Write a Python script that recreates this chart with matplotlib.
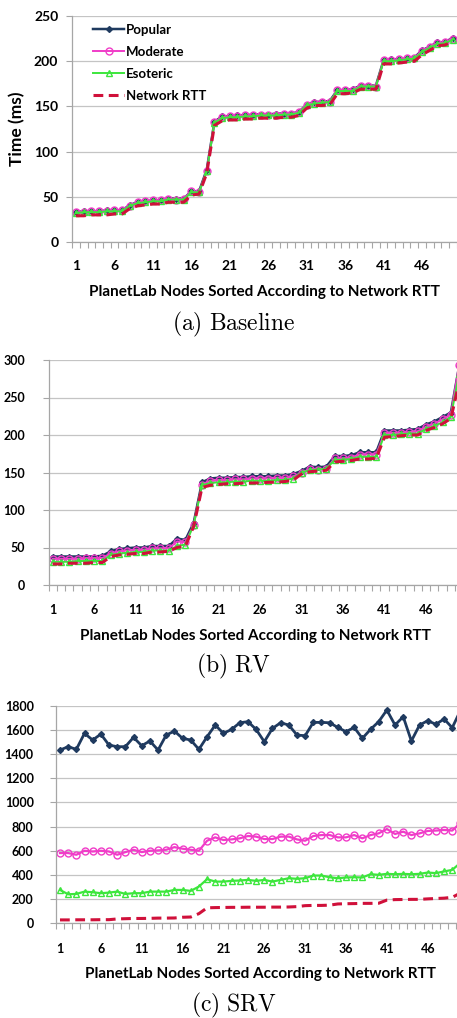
import numpy as np
import matplotlib
matplotlib.use("Agg")
import matplotlib.pyplot as plt
from matplotlib.ticker import FixedLocator, NullFormatter

plt.rcParams['font.family'] = ['Lato', 'DejaVu Sans']
plt.rcParams['font.weight'] = 'bold'
plt.rcParams['mathtext.fontset'] = 'cm'

nodes = np.arange(1, 51)
tick_nodes = [1, 6, 11, 16, 21, 26, 31, 36, 41, 46]
series_names = ["Popular", "Moderate", "Esoteric", "Network RTT"]

# (a) Baseline
base_popular = [33, 34, 34, 34, 35, 35, 35, 41, 44, 45, 46, 46, 48, 48, 48, 56, 56, 80, 133, 139,
                139, 140, 140, 141, 141, 141, 142, 142, 142, 144, 152, 155, 155, 156, 168, 168, 169, 173, 173, 173,
                201, 202, 202, 203, 204, 212, 216, 221, 221, 226]
base_moderate = [33, 33, 34, 34, 34, 35, 35, 40, 44, 45, 46, 46, 48, 47, 48, 56, 55, 79, 133, 138,
                 139, 139, 140, 140, 141, 141, 141, 142, 142, 144, 152, 154, 155, 155, 168, 168, 168, 173, 173, 172,
                 201, 201, 202, 203, 204, 211, 216, 220, 221, 225]
base_esoteric = [32, 33, 33, 33, 34, 34, 34, 40, 43, 44, 45, 45, 47, 47, 47, 55, 55, 78, 132, 137,
                 138, 138, 139, 139, 140, 140, 140, 141, 141, 143, 151, 153, 154, 155, 167, 167, 167, 172, 172, 172,
                 200, 200, 201, 202, 203, 210, 215, 219, 220, 224]
base_rtt = [29, 29, 30, 30, 30, 31, 31, 37, 40, 41, 42, 42, 44, 44, 44, 52, 53, 76, 129, 134,
            135, 135, 136, 136, 137, 137, 137, 138, 138, 140, 148, 151, 151, 152, 164, 164, 165, 169, 169, 169,
            197, 197, 198, 199, 200, 207, 212, 217, 218, 222]

# (b) RV
rv_popular = [38, 38, 38, 38, 38, 38, 39, 45, 48, 49, 50, 50, 52, 52, 52, 62, 60, 83, 137, 142,
              143, 143, 144, 144, 145, 145, 145, 146, 146, 148, 152, 158, 157, 158, 172, 172, 173, 177, 177, 177,
              206, 206, 206, 207, 208, 214, 218, 224, 230, 292]
rv_moderate = [35, 35, 35, 35, 36, 36, 36, 42, 45, 46, 47, 47, 49, 49, 49, 58, 57, 80, 134, 139,
               140, 140, 141, 141, 142, 142, 142, 143, 143, 145, 149, 155, 154, 155, 169, 169, 170, 174, 174, 174,
               203, 203, 203, 204, 205, 211, 215, 221, 227, 294]
rv_esoteric = [31, 31, 31, 32, 32, 32, 32, 40, 42, 43, 44, 44, 46, 46, 46, 52, 54, 80, 133, 136,
               137, 137, 138, 138, 139, 139, 139, 140, 140, 142, 150, 153, 154, 155, 167, 167, 168, 171, 171, 171,
               200, 200, 201, 202, 202, 208, 212, 217, 224, 282]
rv_rtt = [28, 28, 29, 29, 29, 30, 30, 38, 40, 41, 42, 42, 44, 44, 45, 50, 52, 78, 130, 133,
          134, 135, 135, 136, 136, 136, 137, 137, 138, 140, 148, 151, 152, 153, 164, 165, 166, 168, 168, 169,
          197, 198, 199, 200, 200, 206, 210, 215, 222, 270]

# (c) SRV
srv_popular = [1433, 1461, 1439, 1571, 1516, 1565, 1474, 1461, 1461, 1538,
               1469, 1508, 1433, 1557, 1590, 1530, 1516, 1439, 1543, 1640,
               1571, 1604, 1659, 1668, 1604, 1502, 1612, 1659, 1640, 1557,
               1552, 1662, 1662, 1659, 1620, 1585, 1620, 1530, 1604, 1668,
               1764, 1640, 1709, 1508, 1640, 1676, 1646, 1690, 1618, 1760]
srv_moderate = [581, 581, 567, 600, 594, 600, 594, 567, 589, 608,
                589, 600, 603, 608, 630, 617, 608, 600, 683, 711,
                689, 694, 703, 722, 717, 697, 697, 717, 717, 694,
                683, 722, 730, 730, 711, 711, 730, 703, 730, 744,
                780, 739, 758, 730, 744, 764, 767, 772, 767, 830]
srv_esoteric = [276, 240, 243, 262, 257, 249, 254, 262, 243, 249,
                249, 262, 262, 262, 276, 276, 268, 304, 365, 345,
                345, 351, 354, 359, 351, 359, 345, 359, 373, 368,
                373, 395, 395, 381, 373, 379, 381, 379, 406, 401,
                409, 406, 409, 406, 409, 420, 415, 429, 442, 500]
srv_rtt = [28, 28, 29, 29, 29, 30, 30, 36, 38, 40, 40, 41, 43, 43, 44, 50, 52, 80, 128, 130,
           131, 132, 132, 133, 133, 133, 134, 134, 135, 138, 146, 148, 148, 150, 160, 162, 163, 165, 165, 166,
           192, 196, 197, 198, 198, 202, 205, 208, 215, 250]

W, H = 457, 1018
fig = plt.figure(figsize=(W / 100, H / 100), dpi=100)


def px_axes(left, top, right, bottom):
    return fig.add_axes([left / W, 1 - bottom / H, (right - left) / W, (bottom - top) / H])


def style_panel(ax, ymax, ystep, ypad, xpad, fs):
    ax.set_xlim(0.5, 50.5)
    ax.set_ylim(0, ymax)
    ax.set_yticks(np.arange(0, ymax + 1, ystep))
    ax.set_xticks(tick_nodes)
    ax.xaxis.set_minor_locator(FixedLocator(np.arange(0.5, 51, 1)))
    ax.xaxis.set_minor_formatter(NullFormatter())
    ax.tick_params(axis='x', which='major', length=0, pad=xpad, labelsize=fs)
    ax.tick_params(axis='x', which='minor', length=4, width=0.8, color='#A6A6A6', direction='out')
    ax.tick_params(axis='y', length=4, width=0.8, color='#A6A6A6', pad=ypad, labelsize=fs)
    for lab in ax.get_xticklabels() + ax.get_yticklabels():
        lab.set_fontweight('bold')
    ax.grid(axis='y', color='#C4C4C4', linewidth=0.9)
    ax.set_axisbelow(True)
    for s in ['top', 'right']:
        ax.spines[s].set_visible(False)
    for s in ['left', 'bottom']:
        ax.spines[s].set_color('#A6A6A6')
        ax.spines[s].set_linewidth(0.9)
    ax.set_xlabel("PlanetLab Nodes Sorted According to Network RTT", fontsize=11,
                  fontweight='bold', labelpad=9)


def draw(ax, pop, mod, eso, rtt, lw):
    ax.plot(nodes, pop, color='#1F3A5F', lw=lw + 0.4, marker='D', ms=3, label=series_names[0])
    ax.plot(nodes, mod, color='#F03CC8', lw=lw, marker='o', ms=5, mfc='none', mew=1, label=series_names[1])
    ax.plot(nodes, eso, color='#3CE63C', lw=lw, marker='^', ms=4.5, mfc='none', mew=1, label=series_names[2])
    ax.plot(nodes, rtt, color='#D0103A', lw=2.2, ls=(0, (3.2, 1.8)), label=series_names[3])


ax1 = px_axes(72.2, 16, 456.6, 242)
draw(ax1, base_popular, base_moderate, base_esoteric, base_rtt, 1.4)
style_panel(ax1, 250, 50, 6, 13, 10)
ax1.set_ylabel("Time (ms)", fontsize=12.5, fontweight='bold', labelpad=6)
leg = ax1.legend(loc='upper left', bbox_to_anchor=(0.055, 0.965), frameon=False,
                 prop={'weight': 'bold', 'size': 9.5}, handlelength=2.3, handletextpad=0.15,
                 labelspacing=0.75, borderpad=0, borderaxespad=0)

ax2 = px_axes(48.5, 360, 463.3, 585)
draw(ax2, rv_popular, rv_moderate, rv_esoteric, rv_rtt, 1.4)
style_panel(ax2, 300, 50, 13, 14, 9)

ax3 = px_axes(55.9, 705.7, 464.5, 923.3)
draw(ax3, srv_popular, srv_moderate, srv_esoteric, srv_rtt, 1.6)
style_panel(ax3, 1800, 200, 12, 14, 9)

fig.text(233.5 / W, 1 - 324 / H, r'$\mathrm{(a)\ Baseline}$', ha='center', va='center', fontsize=17)
fig.text(233.5 / W, 1 - 666 / H, r'$\mathrm{(b)\ RV}$', ha='center', va='center', fontsize=17)
fig.text(233.5 / W, 1 - 1005 / H, r'$\mathrm{(c)\ SRV}$', ha='center', va='center', fontsize=17)

fig.savefig("out.png", dpi=100)
